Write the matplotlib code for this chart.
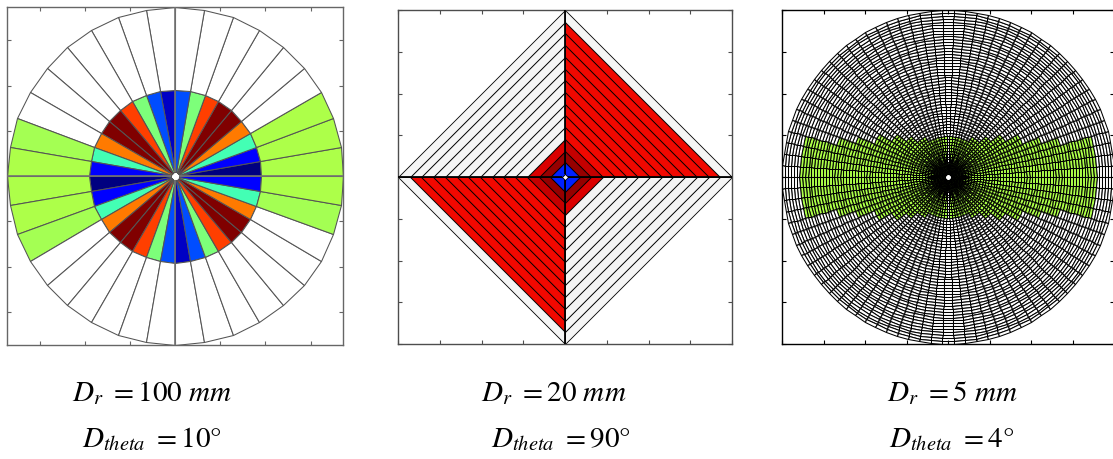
import numpy as np
import matplotlib
matplotlib.use("Agg")
import matplotlib.pyplot as plt

plt.rcParams['font.family'] = ['Liberation Serif', 'DejaVu Serif']
plt.rcParams['mathtext.fontset'] = 'stix'

NAN = np.nan

# ---------------- Panel 1: D_r = 100 mm, D_theta = 10 deg ----------------
p1_r_edges = [5, 105, 205]          # mm
p1_dtheta = 10                      # deg
# jet-normalised value of each 10-degree sector, counter-clockwise from east
p1_inner = [0.00, 0.11, 0.43, 0.78, 1.00, 1.00, 0.84, 0.50, 0.20,
            0.06, 0.20, 0.50, 0.84, 1.00, 1.00, 0.78, 0.43, 0.11,
            0.00, 0.11, 0.43, 0.78, 1.00, 1.00, 0.84, 0.50, 0.20,
            0.06, 0.20, 0.50, 0.84, 1.00, 1.00, 0.78, 0.43, 0.11]
p1_outer = [0.56, 0.56, 0.56, NAN, NAN, NAN, NAN, NAN, NAN,
            NAN, NAN, NAN, NAN, NAN, NAN, NAN, 0.55, 0.56,
            0.56, 0.56, 0.55, NAN, NAN, NAN, NAN, NAN, NAN,
            NAN, NAN, NAN, NAN, NAN, NAN, NAN, 0.55, 0.56]
p1_tick_step = 55

# ---------------- Panel 2: D_r = 20 mm, D_theta = 90 deg ----------------
p2_r0, p2_dr, p2_nrings = 5, 20, 14
p2_dtheta = 90
# rows = rings (inside -> outside), columns = quadrants (E-N, N-W, W-S, S-E)
p2_values = [
    [0.16, 0.16, 0.16, 0.16],
    [0.98, 0.98, 0.98, 0.98],
    [0.94, 0.92, 0.94, 0.92],
    [0.90, NAN, 0.90, NAN],
    [0.90, NAN, 0.90, NAN],
    [0.90, NAN, 0.90, NAN],
    [0.90, NAN, 0.90, NAN],
    [0.90, NAN, 0.90, NAN],
    [0.90, NAN, 0.90, NAN],
    [0.90, NAN, 0.90, NAN],
    [0.90, NAN, 0.90, NAN],
    [0.90, NAN, 0.90, NAN],
    [0.90, NAN, 0.90, NAN],
    [NAN, NAN, NAN, NAN],
]

# ---------------- Panel 3: D_r = 5 mm, D_theta = 4 deg ----------------
p3_r0, p3_dr, p3_nrings = 5, 5, 56
p3_dtheta = 4
p3_green = 0.56
# green cell blocks on the east side (r_in, r_out, theta_lo, theta_hi);
# the west side is the same block turned by 180 deg
p3_green_blocks = [
    (5, 70, -90, 90),
    (70, 80, -60, 60),
    (80, 95, -48, 48),
    (95, 115, -40, 40),
    (115, 140, -32, 32),
    (140, 170, -26, 26),
    (170, 200, -22, 22),
    (200, 230, -18, 18),
    (230, 255, -16, 16),
]

labels_top = [r'$D_{r}\ =100\ mm$', r'$D_{r}\ =20\ mm$', r'$D_{r}\ =5\ mm$']
labels_bottom = [r'$D_{theta}\ =10°$', r'$D_{theta}\ =90°$', r'$D_{theta}\ =4°$']

# ---------------- drawing ----------------
W, H = 1113, 459
fig = plt.figure(figsize=(W / 100, H / 100), dpi=100)


def px_axes(x0, x1, y0, y1):
    return fig.add_axes([x0 / W, 1 - y1 / H, (x1 - x0) / W, (y1 - y0) / H])


def polar_mesh(ax, r_edges, dtheta, C, bad, edge, lw):
    theta = np.deg2rad(np.arange(0, 360 + dtheta, dtheta))
    T, R = np.meshgrid(theta, np.asarray(r_edges, float))
    X, Y = R * np.cos(T), R * np.sin(T)
    cmap = plt.get_cmap('jet').copy()
    cmap.set_bad(bad)
    ax.pcolormesh(X, Y, np.ma.masked_invalid(np.asarray(C, float)), cmap=cmap,
                  vmin=0, vmax=1, edgecolors=edge, linewidth=lw,
                  shading='flat', antialiased=True)


def axis_lines(ax, r_in, r_out, col, lw):
    ax.hlines([0, 0], [-r_out, r_in], [-r_in, r_out], colors=col, lw=lw, zorder=3)
    ax.vlines([0, 0], [-r_out, r_in], [-r_in, r_out], colors=col, lw=lw, zorder=3)


def style(ax, lim, step, spine_col):
    ax.set_xlim(-lim, lim)
    ax.set_ylim(-lim, lim)
    n = int(lim // step)
    ticks = np.arange(-n, n + 1) * step
    ax.set_xticks(ticks)
    ax.set_yticks(ticks)
    ax.tick_params(direction='in', length=3, width=0.8, top=True, right=True,
                   labelbottom=False, labelleft=False, color=spine_col)
    for s in ax.spines.values():
        s.set_color(spine_col)
        s.set_linewidth(1.0)


# panel 1
ax1 = px_axes(7.3, 343.3, 7.3, 345)
polar_mesh(ax1, p1_r_edges, p1_dtheta, [p1_inner, p1_outer], 'white',
           (0.33, 0.33, 0.33), 0.75)
style(ax1, p1_r_edges[-1], p1_tick_step, (0.4, 0.4, 0.4))
axis_lines(ax1, p1_r_edges[0], p1_r_edges[-1], (0.45, 0.45, 0.45), 1.2)

# panel 2
ax2 = px_axes(398, 732, 10, 344)
p2_r_edges = p2_r0 + p2_dr * np.arange(p2_nrings + 1)
polar_mesh(ax2, p2_r_edges, p2_dtheta, p2_values, (0.96, 0.96, 0.96),
           'black', 0.6)
style(ax2, p2_r_edges[-1], p2_r_edges[-1] / 4, (0.3, 0.3, 0.3))
axis_lines(ax2, p2_r_edges[0], p2_r_edges[-1], 'black', 1.3)

# panel 3
ax3 = px_axes(782, 1114, 10, 344)
p3_r_edges = p3_r0 + p3_dr * np.arange(p3_nrings + 1)
nsec = 360 // p3_dtheta
C3 = np.full((p3_nrings, nsec), np.nan)
r_mid = (p3_r_edges[:-1] + p3_r_edges[1:]) / 2
t_mid = np.arange(nsec) * p3_dtheta + p3_dtheta / 2
for r_in, r_out, t_lo, t_hi in p3_green_blocks:
    rsel = (r_mid > r_in) & (r_mid < r_out)
    for off in (0, 180):
        rel = (t_mid - off + 180) % 360 - 180
        tsel = (rel > t_lo) & (rel < t_hi)
        C3[np.ix_(rsel, tsel)] = p3_green
polar_mesh(ax3, p3_r_edges, p3_dtheta, C3, 'white', 'black', 0.75)
style(ax3, p3_r_edges[-1], p3_r_edges[-1] / 4, 'black')

# captions
top_x = [152, 554, 952]
bot_x = [152, 561, 952]
for i in range(3):
    fig.text(top_x[i] / W, 1 - 401 / H, labels_top[i], ha='center',
             va='baseline', fontsize=21)
    fig.text(bot_x[i] / W, 1 - 447 / H, labels_bottom[i], ha='center',
             va='baseline', fontsize=21)

fig.savefig('out.png', dpi=100)
